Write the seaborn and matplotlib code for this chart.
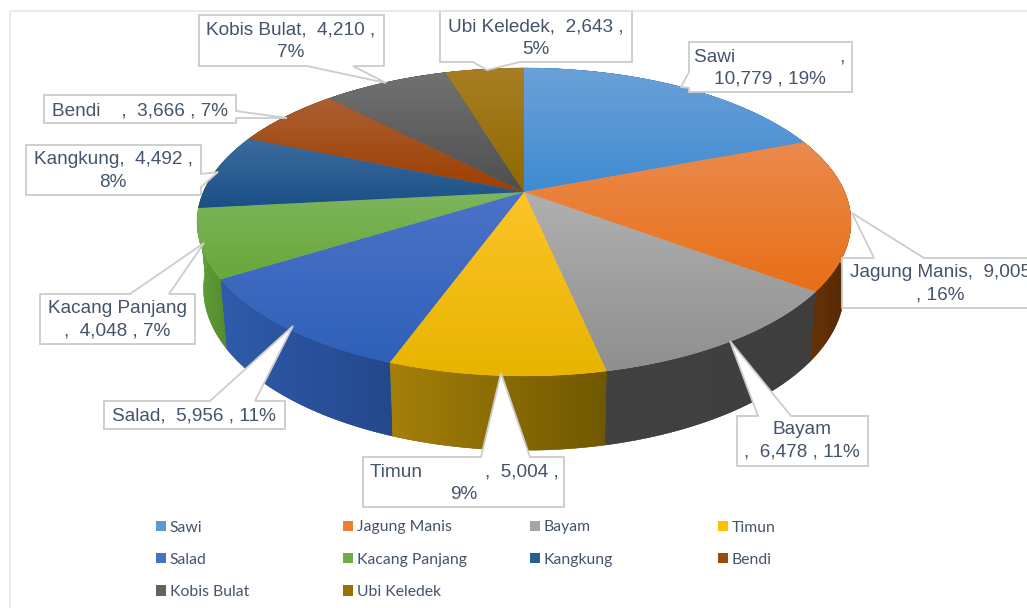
import numpy as np
import matplotlib
matplotlib.use("Agg")
import matplotlib.pyplot as plt
import seaborn as sns
from matplotlib.colors import LinearSegmentedColormap
from matplotlib.patches import Patch, Polygon
from matplotlib.path import Path
from matplotlib.transforms import Affine2D, Transform

categories = ["Sawi", "Jagung Manis", "Bayam", "Timun", "Salad",
              "Kacang Panjang", "Kangkung", "Bendi", "Kobis Bulat", "Ubi Keledek"]
values = [10779, 9005, 6478, 5004, 5956, 4048, 4492, 3666, 4210, 2643]
labels = ["Sawi" + " " * 20 + ",\n10,779 , 19%",
          "Jagung Manis,  9,005\n, 16%",
          "Bayam\n,  6,478 , 11%",
          "Timun" + " " * 12 + ",  5,004 ,\n9%",
          "Salad,  5,956 , 11%",
          "Kacang Panjang\n,  4,048 , 7%",
          "Kangkung,  4,492 ,\n8%",
          "Bendi    ,  3,666 , 7%",
          "Kobis Bulat,  4,210 ,\n7%",
          "Ubi Keledek,  2,643 ,\n5%"]

top_light = ["#6ba1d8", "#eb8a4e", "#b0b0b0", "#fcc428", "#4b73c8",
             "#7cb55c", "#3d6c9e", "#ab5f34", "#727272", "#a87e24"]
top_dark = ["#3f8bd2", "#e86f16", "#8f8f8f", "#e8b400", "#2f60b8",
            "#69a83a", "#1a4f86", "#9d3f00", "#4e4e4e", "#8f6900"]
side_left = ["#2e5f8f", "#6a3508", "#424242", "#a5800a", "#2f5cab",
             "#64a03a", "#64a03a", "#7a3000", "#3a3a3a", "#6a5000"]
side_right = ["#2e5f8f", "#552a06", "#3e3e3e", "#6f5800", "#24488c",
              "#558a30", "#64a03a", "#7a3000", "#3a3a3a", "#6a5000"]
legend_colors = ["#5b9bd5", "#ed7d31", "#a5a5a5", "#ffc000", "#4472c4",
                 "#70ad47", "#255e91", "#9e480e", "#636363", "#997300"]

TEXT = "#44546a"
EDGE = "#cccccc"
CX, CY = 524, 192            # apex of the pie in the picture
K, A, B = 0.195, 148.2, 320.7  # perspective of the top disc
DROP, SX, SY = 65, 0.98, 1.05  # how the lower rim sits under the top rim


class Perspective(Transform):
    input_dims = output_dims = 2

    def transform_non_affine(self, pts):
        pts = np.asarray(pts, float)
        d = 1 + K * pts[:, 1]
        return np.column_stack((CX + B * pts[:, 0] / d, CY - A * pts[:, 1] / d))

    def transform_path_non_affine(self, path):
        big = path.transformed(Affine2D().scale(2000))
        poly = big.to_polygons(closed_only=True)[0] / 2000
        return Path(self.transform_non_affine(poly), closed=True)


def lower_rim(pts):
    d = 1 + K * pts[:, 1]
    return np.column_stack((CX + SX * B * pts[:, 0] / d,
                            CY + DROP - SY * A * pts[:, 1] / d))


sns.set_theme(style="white")
plt.rcParams["font.family"] = ["Liberation Sans", "DejaVu Sans"]

fig = plt.figure(figsize=(10.27, 6.08), dpi=100, facecolor="white")
ax = fig.add_axes([0, 0, 1, 1])

persp = Perspective()
wedges, _ = ax.pie(values, startangle=90, counterclock=False, radius=1,
                   colors=sns.color_palette(legend_colors), center=(0, 0))


def gradient_fill(artist, verts, c0, c1, vertical, z):
    cmap = LinearSegmentedColormap.from_list("g", [c0, c1])
    g = np.linspace(0, 1, 128)
    g = g[:, None] if vertical else g[None, :]
    x0, x1 = verts[:, 0].min(), verts[:, 0].max()
    y0, y1 = verts[:, 1].min(), verts[:, 1].max()
    im = ax.imshow(g, extent=(x0, x1, y1, y0), origin="upper", aspect="auto",
                   cmap=cmap, vmin=0, vmax=1, zorder=z, interpolation="bilinear")
    im.set_clip_path(artist)


for i, w in enumerate(wedges):
    th = np.radians(np.linspace(w.theta1, w.theta2, 80))
    rim = np.column_stack((np.cos(th), np.sin(th)))
    upper = persp.transform_non_affine(rim)
    lower = lower_rim(rim)
    verts = np.vstack((upper, lower[::-1]))
    side = ax.fill(verts[:, 0], verts[:, 1], color=side_right[i], lw=0.3, zorder=1)[0]
    gradient_fill(side, verts, side_left[i], side_right[i], False, 2)

    w.set_transform(persp + ax.transData)
    w.set_zorder(3)
    w.set_edgecolor("none")
    top = persp.transform_path(w.get_path()).vertices
    gradient_fill(w, top, top_light[i], top_dark[i], True, 4)

# light chart frame
ax.plot([10, 10, 1027], [608, 11, 11], color="#e3e7ef", lw=1.2, zorder=8)

# callouts: box (left, top, right, bottom), tail (edge, from, to, tip), text centre
callouts = [
    ((689, 42, 852, 92), ("left", 88, 72, (681, 87)), (770, 68)),
    ((842, 258, 1040, 308), ("top", 874, 924, (852, 213)), (940, 284)),
    ((737, 416, 868, 466), ("top", 758, 791, (730, 341)), (802, 441)),
    ((363, 457, 564, 507), ("top", 481, 530, (501, 373)), (464, 483)),
    ((104, 401, 285, 429), ("top", 210, 255, (293, 326)), (194, 416)),
    ((40, 294, 195, 344), ("top", 130, 169, (204, 243)), (117, 320)),
    ((26, 145, 201, 195), ("right", 174, 187, (218, 172)), (113, 171)),
    ((44, 95, 236, 123), ("right", 111, 118, (287, 118)), (140, 111)),
    ((199, 15, 384, 66), ("bottom", 353, 307, (386, 83)), (291, 41)),
    ((440, 11, 632, 62), ("bottom", 520, 473, (487, 70)), (536, 38)),
]
for (box, tail, centre), text in zip(callouts, labels):
    l, t, r, b = box
    edge, p, q, tip = tail
    pts = [(l, t)]
    if edge == "top":
        pts += [(p, t), tip, (q, t)]
    pts.append((r, t))
    if edge == "right":
        pts += [(r, p), tip, (r, q)]
    pts.append((r, b))
    if edge == "bottom":
        pts += [(p, b), tip, (q, b)]
    pts.append((l, b))
    if edge == "left":
        pts += [(l, p), tip, (l, q)]
    ax.add_patch(Polygon(pts, closed=True, facecolor="white", edgecolor=EDGE,
                         lw=1.3, zorder=6, joinstyle="miter"))
    ax.text(centre[0], centre[1], text, ha="center", va="center", color=TEXT,
            fontsize=13.7, linespacing=1.42, zorder=7, clip_on=True)

# legend: four columns on a regular grid
order = [[0, 4, 8], [1, 5, 9], [2, 6], [3, 7]]
col_x = [156, 343, 530, 718]
for x, idx in zip(col_x, order):
    handles = [Patch(facecolor=legend_colors[i], edgecolor="none") for i in idx]
    leg = ax.legend(handles, [categories[i] for i in idx],
                    loc="upper left", bbox_to_anchor=(x, 520.5),
                    bbox_transform=ax.transData, frameon=False, ncols=1,
                    prop={"family": "Lato", "size": 11.3}, labelcolor=TEXT,
                    handlelength=0.64, handleheight=0.64, handletextpad=0.25,
                    labelspacing=1.16, borderpad=0, borderaxespad=0)
    ax.add_artist(leg)
    ax.legend_ = None

ax.set_aspect("auto")
ax.set_xlim(0, 1027)
ax.set_ylim(608, 0)
ax.axis("off")
fig.savefig("out.png", dpi=100, facecolor="white")
